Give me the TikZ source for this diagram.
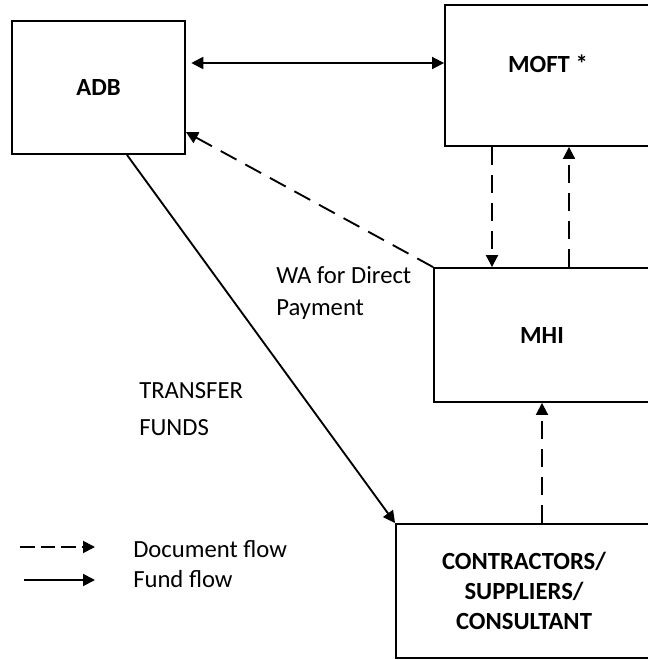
\documentclass[tikz,border=0pt]{standalone}
\usepackage{fontspec}
\setmainfont{Carlito}
\usetikzlibrary{arrows.meta,calc}
\begin{document}
\begin{tikzpicture}[x=0.75pt,y=-0.75pt,
  box/.style={draw, line width=1.4pt, inner sep=0pt, font=\fontsize{18.5}{22.5}\selectfont\bfseries, align=center},
  lbl/.style={font=\fontsize{18.5}{22.5}\selectfont, inner sep=0pt, anchor=base west},
  tip/.style={-{Triangle[length=9pt,width=9pt]}},
  docflow/.style={tip, line width=1.4pt, dash pattern=on 13.5pt off 7.5pt},
  legdoc/.style={tip, line width=1.4pt, dash pattern=on 11pt off 4.5pt},
  fundflow/.style={tip, line width=1.4pt}]
\useasboundingbox (0,0) rectangle (648,660);
\clip (0,0) rectangle (648,660);
\node[box, minimum width=129.75pt, minimum height=99.75pt] (adb) at (98.5,87.5) {ADB};
\node[box, minimum width=155.25pt, minimum height=105.75pt] (moft) at (548.5,75.5) {};
\node[font=\fontsize{18.5}{22.5}\selectfont\bfseries, inner sep=0pt] (mofttxt) at (548,63.5) {MOFT *};
\node[box, minimum width=162pt, minimum height=100.5pt] (mhi) at (542,335) {MHI};
\node[box, minimum width=192pt, minimum height=100.5pt] (con) at (524,591) {CONTRACTORS/\\SUPPLIERS/\\CONSULTANT};
% connectors
\draw[line width=1.4pt, {Triangle[length=9pt,width=9pt]}-{Triangle[length=9pt,width=9pt]}, shorten <=4pt] (adb.east |- 0,63) -- (moft.west |- 0,63);
\draw[docflow] (moft.south -| 492,0) -- (mhi.north -| 492,0);
\draw[docflow] (mhi.north -| 569,0) -- (moft.south -| 569,0);
\draw[docflow] (mhi.north west) -- (adb.east |- 0,132);
\draw[fundflow] (adb.south -| 127,0) -- (con.north west);
\draw[docflow] (con.north -| 542,0) -- (mhi.south -| 542,0);
% labels
\node[lbl] (wa1) at (276,283) {WA for Direct};
\node[lbl] (wa2) at (276,315) {Payment};
\node[lbl] (tf1) at (139,398) {TRANSFER};
\node[lbl] (tf2) at (139,435) {FUNDS};
% legend
\coordinate (d1) at (20,547);
\coordinate (d2) at (95,547);
\coordinate (f1) at (24,580);
\coordinate (f2) at (95,580);
\draw[legdoc] (d1) -- (d2);
\draw[fundflow] (f1) -- (f2);
\node[lbl] (ldoc) at (133,557) {Document flow};
\node[lbl] (lfund) at (133,587) {Fund flow};
\end{tikzpicture}
\end{document}
